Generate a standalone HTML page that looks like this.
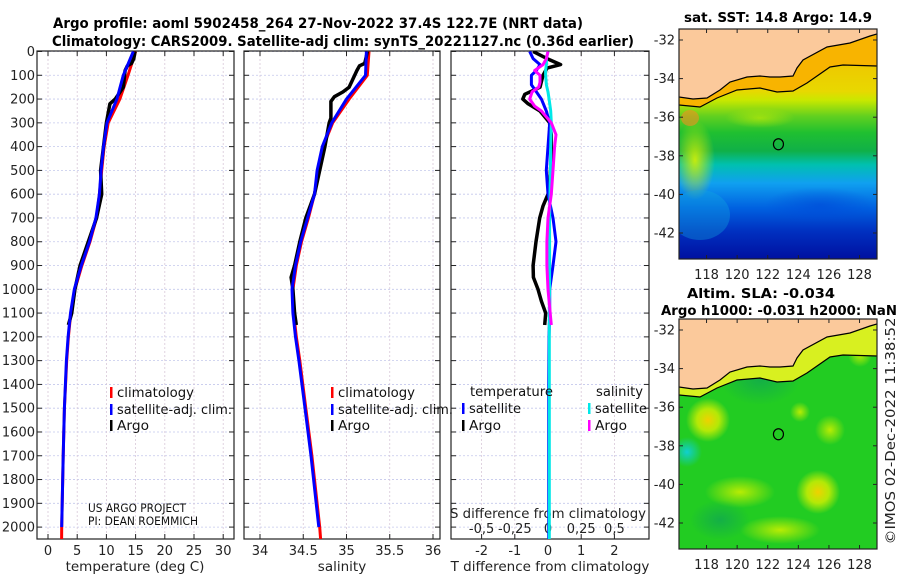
<!DOCTYPE html>
<html><head><meta charset="utf-8">
<style>
html,body{margin:0;padding:0;background:#fff;}
svg{display:block;font-family:"DejaVu Sans","Liberation Sans",sans-serif;}
</style></head>
<body>
<svg id="fig" width="900" height="580" viewBox="0 0 900 580" xmlns="http://www.w3.org/2000/svg">
<defs>
<linearGradient id="sstGrad" gradientUnits="userSpaceOnUse" x1="0" y1="29" x2="0" y2="259">
<stop offset="0" stop-color="#f6b400"/>
<stop offset="0.27" stop-color="#e8d800"/>
<stop offset="0.31" stop-color="#c8e800"/>
<stop offset="0.38" stop-color="#60d020"/>
<stop offset="0.45" stop-color="#20c030"/>
<stop offset="0.53" stop-color="#10b048"/>
<stop offset="0.59" stop-color="#00c0b0"/>
<stop offset="0.67" stop-color="#10a0f0"/>
<stop offset="0.78" stop-color="#0060e0"/>
<stop offset="0.88" stop-color="#0030c0"/>
<stop offset="1" stop-color="#0010a0"/>
</linearGradient>
<radialGradient id="blobY"><stop offset="0" stop-color="#f0d000"/><stop offset="0.5" stop-color="#d8f000" stop-opacity="0.8"/><stop offset="1" stop-color="#d8f000" stop-opacity="0"/></radialGradient>
<radialGradient id="blobL"><stop offset="0" stop-color="#d8f000" stop-opacity="0.9"/><stop offset="1" stop-color="#d8f000" stop-opacity="0"/></radialGradient>
<radialGradient id="blobC"><stop offset="0" stop-color="#10d0d0"/><stop offset="1" stop-color="#10d0d0" stop-opacity="0"/></radialGradient>
<radialGradient id="blobD"><stop offset="0" stop-color="#10a850" stop-opacity="0.8"/><stop offset="1" stop-color="#10a850" stop-opacity="0"/></radialGradient>
<radialGradient id="blobYL"><stop offset="0" stop-color="#c8f000" stop-opacity="0.9"/><stop offset="1" stop-color="#c8f000" stop-opacity="0"/></radialGradient>
<radialGradient id="blobB"><stop offset="0" stop-color="#0048d8" stop-opacity="0.6"/><stop offset="1" stop-color="#0048d8" stop-opacity="0"/></radialGradient>
<clipPath id="cp1"><rect x="37" y="51" width="197" height="488"/></clipPath>
<clipPath id="cp2"><rect x="244" y="51" width="196" height="488"/></clipPath>
<clipPath id="cp3"><rect x="451" y="51" width="198" height="488"/></clipPath>
<clipPath id="cpm1"><rect x="679" y="29" width="198" height="230"/></clipPath>
<clipPath id="cpm2"><rect x="679" y="319" width="198" height="230"/></clipPath>
</defs>
<g id="root"></g>
</svg>
<script>
// ---------- data ----------
const climDepth = [0,100,200,300,400,500,600,700,800,900,1000,1100,1200,1300,1500,1700,2000,2050];
const tempClim = [15.0,13.7,12.3,10.3,9.6,9.2,8.8,8.3,7.2,5.8,4.6,3.9,3.5,3.2,2.8,2.6,2.35,2.33];
const salClim = [35.26,35.24,35.03,34.84,34.73,34.67,34.63,34.56,34.48,34.42,34.38,34.39,34.42,34.46,34.53,34.6,34.69,34.7];
const satProfDepth = [0,100,200,300,400,500,600,700,800,900,1000,1100,1200,1300,1500,1700,2000];
const tempSat = [14.6,12.9,11.8,10.1,9.5,9.1,8.8,8.2,7.1,5.7,4.5,3.85,3.45,3.15,2.8,2.6,2.35];
const salSat = [35.23,35.22,35.0,34.83,34.72,34.66,34.63,34.55,34.47,34.41,34.37,34.38,34.41,34.45,34.52,34.59,34.68];
const argoTDepth = [0,30,50,60,80,150,200,220,300,400,500,600,700,800,900,1000,1100,1150];
const tempArgo = [14.9,14.7,14.3,13.6,13.2,12.9,11.5,10.6,10.0,9.5,9.0,9.2,8.3,6.9,5.5,4.6,4.05,3.5];
const argoSDepth = [0,20,50,60,80,150,170,190,210,240,280,300,400,500,600,700,800,900,950,1000,1100,1150];
const salArgo = [35.24,35.23,35.21,35.15,35.12,35.03,34.96,34.86,34.82,34.82,34.82,34.8,34.75,34.69,34.63,34.53,34.46,34.40,34.36,34.38,34.40,34.42];
const argoDiffTDepth = [0,30,55,70,100,150,180,200,220,250,300,350,450,550,600,650,700,800,900,950,1000,1050,1100,1150];
const tDiffArgo = [-0.45,-0.03,0.38,-0.03,-0.15,-0.24,-0.7,-0.76,-0.6,-0.24,0.05,0.1,0.1,0.05,0,-0.15,-0.25,-0.36,-0.45,-0.44,-0.3,-0.2,-0.07,-0.1];
const argoDiffSDepth = [0,30,55,80,100,130,150,170,200,230,250,300,350,400,500,600,700,800,900,1000,1150];
const sDiffArgo = [0,-0.012,-0.038,-0.1,-0.06,-0.06,-0.07,-0.12,-0.138,-0.1,-0.05,0.025,0.06,0.05,0.038,0.025,0,-0.008,-0.008,0,0.025];
const satDiffDepth = [0,30,55,80,100,140,170,200,250,300,400,500,600,700,800,900,1000,1100,1200,1400,2000,2050];
const tDiffSat = [-0.55,-0.45,-0.24,-0.35,-0.5,-0.5,-0.35,-0.2,-0.05,0.05,0,-0.05,0,0.15,0.24,0.15,0.05,0.05,0.03,0.02,0.02,0.02];
const sDiffSat = [0,-0.012,-0.012,-0.018,-0.018,-0.012,0,0.008,0.02,0.025,0.02,0.018,0.015,0.012,0.012,0.012,0.012,0.01,0.01,0.01,0.01,0.01];
const depthTicks = [0,100,200,300,400,500,600,700,800,900,1000,1100,1200,1300,1400,1500,1600,1700,1800,1900,2000];
const tempTicks = [0,5,10,15,20,25,30];
const salTicks = [34,34.5,35,35.5,36];
const salTickLabels = ["34","34.5","35","35.5","36"];
const tDiffTicks = [-2,-1,0,1,2];
const sDiffTicks = [-0.5,-0.25,0,0.25,0.5];
const sDiffTickLabels = ["-0,5","-0,25","0","0,25","0,5"];
const latTicks = [-32,-34,-36,-38,-40,-42];
const lonTicks = [118,120,122,124,126,128];

// ---------- helpers ----------
const NS = "http://www.w3.org/2000/svg";
const root = document.getElementById('root');
function mk(tag, attrs, parent, text){
  const e = document.createElementNS(NS, tag);
  for (const k in attrs) e.setAttribute(k, attrs[k]);
  if (text !== undefined) e.textContent = text;
  (parent || root).appendChild(e);
  return e;
}
const yD = d => 51.5 + d * 0.2378;
const xT = t => 48 + t * 5.84;
const xS = s => 260 + (s - 34) * 86.5;
const xDT = v => 548 + v * 33.2;
const xDS = v => 548 + v * 4 * 33.2;

function line(xs, ds, fx, color, w, clip, name){
  const pts = xs.map((v,i)=> fx(v).toFixed(1)+","+yD(ds[i]).toFixed(1)).join(" ");
  const p = mk('polyline', {points:pts, fill:'none', stroke:color, 'stroke-width':w, 'stroke-linejoin':'round', 'clip-path':'url(#'+clip+')'});
  
  
  return p;
}

// ---------- panels ----------
const panels = [
  {x0:37, x1:234, clip:'cp1', name:'temperature-panel'},
  {x0:244, x1:440, clip:'cp2', name:'salinity-panel'},
  {x0:451, x1:649, clip:'cp3', name:'difference-panel'}
];
const yTop = 51, yBot = 539;
panels.forEach((p, pi) => {
  const g = mk('g', {});
  
  
  mk('rect', {x:p.x0, y:yTop, width:p.x1-p.x0, height:yBot-yTop, fill:'#fff'}, g);
  depthTicks.forEach(d => {
    const gl = mk('line', {x1:p.x0, x2:p.x1, y1:yD(d), y2:yD(d), stroke:'#c4c8ec', 'stroke-width':0.8, 'stroke-dasharray':'2,2'}, g);
    
    
    mk('line', {x1:p.x0, x2:p.x0+5, y1:yD(d), y2:yD(d), stroke:'#222', 'stroke-width':1}, g);
    mk('line', {x1:p.x1-5, x2:p.x1, y1:yD(d), y2:yD(d), stroke:'#222', 'stroke-width':1}, g);
  });
  let ticks, fx;
  if (pi===0){ticks=tempTicks; fx=xT;} else if (pi===1){ticks=salTicks; fx=xS;} else {ticks=tDiffTicks; fx=xDT;}
  ticks.forEach((t, i) => {
    const gl = mk('line', {x1:fx(t), x2:fx(t), y1:yTop, y2:yBot, stroke:'#d8c8d8', 'stroke-width':0.8, 'stroke-dasharray':'2,2'}, g);
    
    
    mk('line', {x1:fx(t), x2:fx(t), y1:yBot, y2:yBot-5, stroke:'#222', 'stroke-width':1}, g);
    mk('line', {x1:fx(t), x2:fx(t), y1:yTop, y2:yTop+5, stroke:'#222', 'stroke-width':1}, g);
    const lab = (pi===1) ? salTickLabels[i] : String(t);
    const tl = mk('text', {x:fx(t), y:555, 'font-size':13, fill:'#222', 'text-anchor':'middle'}, g, lab);
    
    
  });
  mk('rect', {x:p.x0, y:yTop, width:p.x1-p.x0, height:yBot-yTop, fill:'none', stroke:'#222', 'stroke-width':1.2}, g);
});

depthTicks.forEach(d => {
  const t = mk('text', {x:35, y:yD(d)+4.5, 'font-size':13, fill:'#222', 'text-anchor':'end'}, root, String(d));
  
  
});

sDiffTicks.forEach((s, i) => {
  const t = mk('text', {x:xDS(s), y:533, 'font-size':13, fill:'#222', 'text-anchor':'middle'}, root, sDiffTickLabels[i]);
  
  
});
{
  const t = mk('text', {x:548, y:518, 'font-size':13.5, fill:'#222', 'text-anchor':'middle', textLength:196, lengthAdjust:'spacingAndGlyphs'}, root, 'S difference from climatology');
  
  
}

[[135,'temperature (deg C)','temperature-axis-title'],[342,'salinity','salinity-axis-title'],[550,'T difference from climatology','t-diff-axis-title']].forEach(a => {
  const t = mk('text', {x:a[0], y:571, 'font-size':13.5, fill:'#222', 'text-anchor':'middle'}, root, a[1]);
  
  
});

{
  const t1 = mk('text', {x:318, y:28, 'font-size':14, 'font-weight':'bold', fill:'#000', 'text-anchor':'middle', textLength:530, lengthAdjust:'spacingAndGlyphs'}, root, 'Argo profile: aoml 5902458_264 27-Nov-2022 37.4S 122.7E (NRT data)');
  
  
  const t2 = mk('text', {x:343, y:46, 'font-size':14, 'font-weight':'bold', fill:'#000', 'text-anchor':'middle', textLength:582, lengthAdjust:'spacingAndGlyphs'}, root, 'Climatology: CARS2009. Satellite-adj clim: synTS_20221127.nc (0.36d earlier)');
  
  
}

line(tempClim, climDepth, xT, '#ff0000', 3, 'cp1', 'temp-climatology-line');
line(tempArgo, argoTDepth, xT, '#000000', 3.5, 'cp1', 'temp-argo-line');
line(tempSat, satProfDepth, xT, '#0000ff', 3, 'cp1', 'temp-satellite-line');
line(salClim, climDepth, xS, '#ff0000', 3, 'cp2', 'sal-climatology-line');
line(salArgo, argoSDepth, xS, '#000000', 3.5, 'cp2', 'sal-argo-line');
line(salSat, satProfDepth, xS, '#0000ff', 3, 'cp2', 'sal-satellite-line');
line(tDiffArgo, argoDiffTDepth, xDT, '#000000', 3.5, 'cp3', 'tdiff-argo-line');
line(tDiffSat, satDiffDepth, xDT, '#0000ff', 3, 'cp3', 'tdiff-satellite-line');
line(sDiffSat, satDiffDepth, xDS, '#00e8e8', 3, 'cp3', 'sdiff-satellite-line');
line(sDiffArgo, argoDiffSDepth, xDS, '#ff00ff', 3, 'cp3', 'sdiff-argo-line');

function legendEntry(x, y, color, label, name, len){
  const g = mk('g', {});
  
  
  mk('rect', {x:x, y:y-10, width:2.5, height:11, fill:color}, g);
  const a = {x:x+7, y:y, 'font-size':13.5, fill:'#111'};
  if (len){ a.textLength = len; a.lengthAdjust = 'spacingAndGlyphs'; }
  mk('text', a, g, label);
}
legendEntry(110, 397, '#ff0000', 'climatology', 'legend-climatology', 77);
legendEntry(110, 414, '#0000ff', 'satellite-adj. clim.', 'legend-satellite-clim', 115);
legendEntry(110, 430, '#000000', 'Argo', 'legend-argo', 32);
legendEntry(331, 397, '#ff0000', 'climatology', 'legend-climatology-sal', 77);
legendEntry(331, 414, '#0000ff', 'satellite-adj. clim.', 'legend-satellite-clim-sal', 115);
legendEntry(331, 430, '#000000', 'Argo', 'legend-argo-sal', 32);
{
  const a = mk('text', {x:470, y:396, 'font-size':13.5, fill:'#111', textLength:83, lengthAdjust:'spacingAndGlyphs'}, root, 'temperature');
  
  
  const b = mk('text', {x:596, y:396, 'font-size':13.5, fill:'#111', textLength:47, lengthAdjust:'spacingAndGlyphs'}, root, 'salinity');
  
  
}
legendEntry(462, 413, '#0000ff', 'satellite', 'legend-tdiff-satellite', 52);
legendEntry(462, 430, '#000000', 'Argo', 'legend-tdiff-argo', 32);
legendEntry(588, 413, '#00e8e8', 'satellite', 'legend-sdiff-satellite', 52);
legendEntry(588, 430, '#ff00ff', 'Argo', 'legend-sdiff-argo', 32);
{
  const t = mk('text', {x:88, y:512, 'font-size':11.5, fill:'#111', textLength:98, lengthAdjust:'spacingAndGlyphs'}, root, 'US ARGO PROJECT');
  
  
  const t2 = mk('text', {x:88, y:525, 'font-size':11.5, fill:'#111', textLength:110, lengthAdjust:'spacingAndGlyphs'}, root, 'PI: DEAN ROEMMICH');
  
  
}

// ---------- maps ----------
const mX = lon => 679 + (lon - 116.2) * 15.3;
const mY = (lat, off) => 40 + off + (-32 - lat) * 19.3;
const coast = [[679,97],[693,99],[707,98],[720,90],[730,82],[747,77],[760,76],[770,77],[780,77],[793,76],[797,68],[803,60],[827,47],[850,43],[870,36],[877,34]];
const contour = [[679,105],[700,107],[717,98],[737,90],[760,88],[777,92],[793,91],[807,83],[830,67],[843,65],[877,66]];
function pts(arr, off){ return arr.map(p => p[0]+","+(p[1]+off)).join(" "); }

function drawMap(off, clip, name, sst){
  const g = mk('g', {'clip-path':'url(#'+clip+')'});
  
  
  if (sst){
    mk('rect', {x:679, y:29, width:198, height:230, fill:'url(#sstGrad)'}, g);
    mk('ellipse', {cx:695, cy:160, rx:20, ry:40, fill:'url(#blobL)'}, g);
    mk('ellipse', {cx:760, cy:118, rx:35, ry:10, fill:'url(#blobL)', opacity:0.6}, g);
    mk('ellipse', {cx:690, cy:118, rx:9, ry:8, fill:'#f09020', opacity:0.6}, g);
    mk('ellipse', {cx:700, cy:215, rx:30, ry:25, fill:'#10a8e0', opacity:0.35}, g);
    mk('ellipse', {cx:820, cy:205, rx:55, ry:18, fill:'url(#blobB)'}, g);
    mk('polygon', {points:pts(coast,0)+" "+pts(contour.slice().reverse(),0), fill:'#f8b400'}, g);
  } else {
    mk('rect', {x:679, y:319, width:198, height:230, fill:'#22cc22'}, g);
    mk('circle', {cx:708, cy:420, r:22, fill:'url(#blobY)'}, g);
    mk('circle', {cx:687, cy:452, r:15, fill:'url(#blobC)'}, g);
    mk('circle', {cx:818, cy:492, r:22, fill:'url(#blobY)'}, g);
    mk('circle', {cx:800, cy:412, r:10, fill:'url(#blobYL)'}, g);
    mk('ellipse', {cx:740, cy:492, rx:35, ry:16, fill:'url(#blobYL)'}, g);
    mk('ellipse', {cx:780, cy:530, rx:40, ry:14, fill:'url(#blobYL)'}, g);
    mk('circle', {cx:860, cy:355, r:12, fill:'url(#blobYL)'}, g);
    mk('circle', {cx:830, cy:430, r:15, fill:'url(#blobYL)'}, g);
    mk('ellipse', {cx:760, cy:380, rx:40, ry:25, fill:'url(#blobD)'}, g);
    mk('ellipse', {cx:720, cy:520, rx:30, ry:20, fill:'url(#blobD)'}, g);
    mk('polygon', {points:pts(coast,off)+" "+pts(contour.slice().reverse(),off), fill:'#d8f020'}, g);
  }
  const land = mk('polygon', {points:"679,"+(29+off)+" 877,"+(29+off)+" "+pts(coast.slice().reverse(),off), fill:'#fbc99b'}, g);
  
  
  mk('polyline', {points:pts(coast,off), fill:'none', stroke:'#000', 'stroke-width':1.2}, g);
  const c = mk('polyline', {points:pts(contour,off), fill:'none', stroke:'#000', 'stroke-width':1.2}, g);
  
  
  const mk2 = mk('ellipse', {cx:mX(122.7), cy:mY(-37.4, off), rx:5, ry:5.5, fill:'none', stroke:'#000', 'stroke-width':1.2}, g);
  
  
  const fr = mk('g', {});
  mk('rect', {x:679, y:29+off, width:198, height:230, fill:'none', stroke:'#222', 'stroke-width':1.2}, fr);
  latTicks.forEach(l => {
    mk('line', {x1:679, x2:683, y1:mY(l,off), y2:mY(l,off), stroke:'#222'}, fr);
    mk('line', {x1:873, x2:877, y1:mY(l,off), y2:mY(l,off), stroke:'#222'}, fr);
    const t = mk('text', {x:675, y:mY(l,off)+4.5, 'font-size':13, fill:'#222', 'text-anchor':'end'}, fr, String(l));
    
    
  });
  lonTicks.forEach(l => {
    mk('line', {x1:mX(l), x2:mX(l), y1:259+off, y2:255+off, stroke:'#222'}, fr);
    mk('line', {x1:mX(l), x2:mX(l), y1:29+off, y2:33+off, stroke:'#222'}, fr);
    const t = mk('text', {x:mX(l), y:279+off, 'font-size':13, fill:'#222', 'text-anchor':'middle'}, fr, String(l));
    
    
  });
}
drawMap(0, 'cpm1', 'sst-map', true);
drawMap(290, 'cpm2', 'sla-map', false);

[[778,22,'sat. SST: 14.8 Argo: 14.9','sst-map-title',188],[761,298,'Altim. SLA: -0.034','sla-map-title',148],[779,315,'Argo h1000: -0.031 h2000: NaN','sla-map-subtitle',236]].forEach(a => {
  const t = mk('text', {x:a[0], y:a[1], 'font-size':13.5, 'font-weight':'bold', fill:'#000', 'text-anchor':'middle', textLength:a[4], lengthAdjust:'spacingAndGlyphs'}, root, a[2]);
  
  
});
{
  const t = mk('text', {x:0, y:0, 'font-size':13.5, fill:'#222', 'text-anchor':'middle', textLength:227, lengthAdjust:'spacingAndGlyphs', transform:'translate(895,431) rotate(-90)'}, root, '©IMOS 02-Dec-2022 11:38:52');
  
  
}
</script>
</body></html>
